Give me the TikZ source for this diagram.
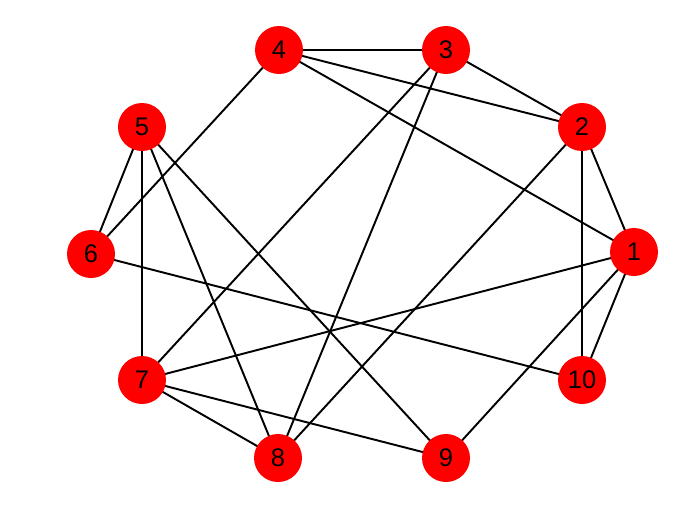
\documentclass[tikz,border=0pt]{standalone}
\usepackage{fontspec}
\setmainfont{Liberation Sans}
\begin{document}
\begin{tikzpicture}[x=0.02cm,y=-0.02cm,
  vtx/.style={circle,fill=red,minimum size=0.96cm,inner sep=0pt,font=\fontsize{14.5}{14.5}\selectfont},
  edge/.style={line width=1.1pt,black}]
\useasboundingbox (0,0) rectangle (700,525);
\foreach \n/\x/\y in {1/634/252,2/582/127,3/446/50,4/279/50,5/142/127,6/91/254,7/142/380,8/278/458,9/446/458,10/582/380}
  \coordinate (c\n) at (\x,\y);
\foreach \a/\b in {4/3,4/2,4/1,4/6,3/2,3/7,3/8,2/1,2/10,2/8,1/10,1/7,1/9,5/6,5/7,5/8,5/9,6/10,7/8,7/9}
  \draw[edge] (c\a) -- (c\b);
\foreach \n in {1,...,10}
  \node[vtx] (v\n) at (c\n) {\n};
\end{tikzpicture}
\end{document}
